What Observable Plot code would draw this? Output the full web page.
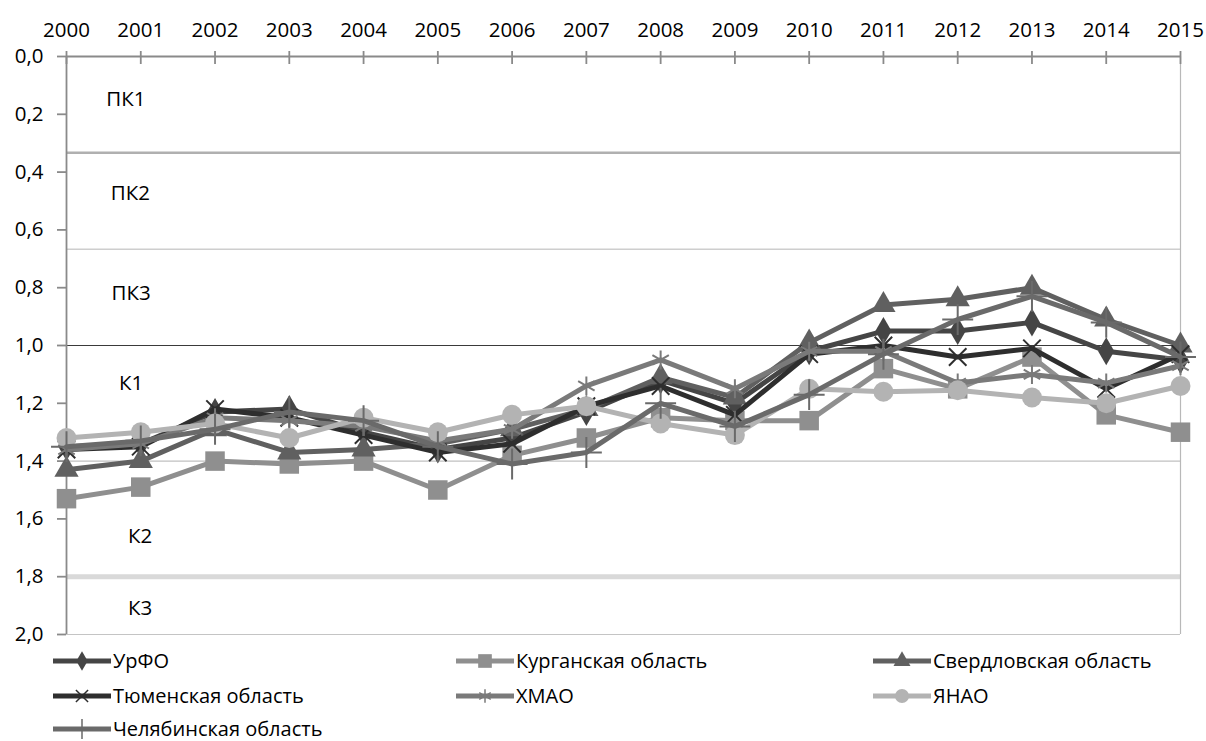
<!DOCTYPE html>
<html><head><meta charset="utf-8">
<script src="https://cdn.jsdelivr.net/npm/d3@7"></script>
<script src="https://cdn.jsdelivr.net/npm/@observablehq/plot@0.6"></script>
<style>
body{margin:0;background:#fff;font-family:"Open Sans",sans-serif;}
#wrap{position:relative;width:1206px;height:741px;overflow:hidden;}
#legend{position:absolute;left:0;top:643px;width:1206px;height:98px;}
.item{position:absolute;display:flex;align-items:center;font-size:20px;line-height:22px;color:#000;height:22px;white-space:nowrap;}
.item svg{margin-right:2px;}
</style></head><body><div id="wrap"><div id="chart"></div><div id="legend"></div></div>
<script>
const years = [2000,2001,2002,2003,2004,2005,2006,2007,2008,2009,2010,2011,2012,2013,2014,2015];
const seriesNames = ["УрФО","Курганская область","Свердловская область","Тюменская область","ХМАО","ЯНАО","Челябинская область"];
const urfo   = [1.35,1.34,1.23,1.22,1.30,1.36,1.32,1.23,1.12,1.20,1.02,0.95,0.95,0.92,1.02,1.05];
const kurgan = [1.53,1.49,1.40,1.41,1.40,1.50,1.38,1.32,1.25,1.26,1.26,1.08,1.15,1.04,1.24,1.30];
const sverdl = [1.43,1.40,1.29,1.37,1.36,1.34,1.29,1.22,1.11,1.18,0.99,0.86,0.84,0.80,0.91,1.00];
const tyumen = [1.36,1.35,1.22,1.25,1.31,1.37,1.34,1.21,1.14,1.24,1.03,1.00,1.04,1.01,1.15,1.03];
const khmao  = [1.36,1.34,1.25,1.26,1.28,1.33,1.29,1.14,1.05,1.15,1.02,1.02,1.13,1.10,1.13,1.07];
const yanao  = [1.32,1.30,1.27,1.32,1.25,1.30,1.24,1.21,1.27,1.31,1.15,1.16,1.155,1.18,1.20,1.14];
const chel   = [1.35,1.33,1.29,1.23,1.26,1.35,1.41,1.37,1.20,1.28,1.17,1.03,0.91,0.83,0.92,1.04];
const seriesValues = [urfo,kurgan,sverdl,tyumen,khmao,yanao,chel];
const yTicks = [0,0.2,0.4,0.6,0.8,1.0,1.2,1.4,1.6,1.8,2.0];
const thresholds = [1/3, 2/3, 1.0, 1.4, 1.8];
const zoneLabels = ["ПК1","ПК2","ПК3","К1","К2","К3"];
const zoneLabelX = [2000.8,2000.86,2000.87,2000.87,2000.99,2000.99];
const zoneLabelY = [0.15,0.475,0.82,1.13,1.66,1.91];

// styles (not data)
const styles = [
  {color:"#454545", symbol:"diamond", d3sym:d3.symbolDiamond, r:8.5, filled:true},
  {color:"#8f8f8f", symbol:"square", d3sym:d3.symbolSquare, r:11, filled:true},
  {color:"#606060", symbol:"triangle", d3sym:d3.symbolTriangle, r:9, filled:true},
  {color:"#2e2e2e", symbol:"times", d3sym:d3.symbolTimes, r:8, filled:false},
  {color:"#7a7a7a", symbol:"asterisk", d3sym:d3.symbolAsterisk, r:9, filled:false},
  {color:"#b3b3b3", symbol:"circle", d3sym:d3.symbolCircle, r:10, filled:true},
  {color:"#6a6a6a", symbol:"plus", d3sym:d3.symbolPlus, r:10, filled:false}
];
const thresholdStyles = [
  {stroke:"#b0b0b0", strokeWidth:2.5},
  {stroke:"#b5b5b5", strokeWidth:1},
  {stroke:"#3a3a3a", strokeWidth:1},
  {stroke:"#c0c0c0", strokeWidth:1.2},
  {stroke:"#d9d9d9", strokeWidth:5}
];

const rows = seriesValues.map((vals,i)=>years.map((yr,j)=>({series:seriesNames[i], year:yr, value:vals[j]})));
const fmt = d => d.toFixed(1).replace(".", ",");
const FS = 20.5;

const marks = [];
thresholds.forEach((t,i)=>marks.push(Plot.ruleY([t], {...thresholdStyles[i]})));
marks.push(Plot.ruleX([years[years.length-1]], {stroke:"#b8b8b8", strokeWidth:1.2}));
marks.push(Plot.ruleY([yTicks[yTicks.length-1]], {stroke:"#c4c4c4", strokeWidth:1.2}));
marks.push(Plot.ruleX([years[0]], {stroke:"#8a8a8a", strokeWidth:1.8}));
marks.push(Plot.ruleY([yTicks[0]], {stroke:"#8a8a8a", strokeWidth:1.8}));
marks.push(Plot.axisX(years, {anchor:"top", tickSize:13, dy:7, stroke:"#8a8a8a", strokeWidth:1.8, tickFormat:()=>"", label:null}));
marks.push(Plot.axisX(years, {anchor:"top", tickSize:0, tickPadding:20, tickFormat:d=>String(d), fontSize:FS, fill:"#000", label:null}));
marks.push(Plot.axisY(yTicks, {anchor:"left", tickSize:9, tickPadding:14, stroke:"#8a8a8a", strokeWidth:1.8, tickFormat:fmt, fontSize:FS, fill:"#000", label:null}));
marks.push(Plot.text(zoneLabels.map((t,i)=>({t, x:zoneLabelX[i], y:zoneLabelY[i]})), {x:"x", y:"y", text:"t", fontSize:FS, fill:"#000"}));
rows.forEach((data,i)=>{
  const s = styles[i];
  marks.push(Plot.line(data, {x:"year", y:"value", stroke:s.color, strokeWidth:5, strokeLinejoin:"round"}));
  marks.push(Plot.dot(data, s.filled
    ? {x:"year", y:"value", symbol:()=>s.symbol, r:s.r, fill:s.color, stroke:"none"}
    : {x:"year", y:"value", symbol:()=>s.symbol, r:s.r, stroke:s.color, strokeWidth:2, fill:"none"}));
});

const chart = Plot.plot({
  width:1206, height:645,
  marginLeft:66, marginRight:26, marginTop:56, marginBottom:11,
  x:{domain:[years[0], years[years.length-1]], axis:null},
  y:{domain:[yTicks[0], yTicks[yTicks.length-1]], reverse:true, axis:null},
  symbol:{type:"identity"},
  style:{fontFamily:"'Open Sans', sans-serif", fontSize:FS+"px", color:"#000", background:"#fff", overflow:"visible"},
  marks
});
document.getElementById("chart").appendChild(chart);

// legend
const legend = d3.select("#legend");
const colLeft = [53, 456, 873];
const rowTop = [7, 42, 75];
seriesNames.forEach((name,i)=>{
  const s = styles[i];
  const item = legend.append("div").attr("class","item")
    .style("left", colLeft[i%3]+"px").style("top", rowTop[Math.floor(i/3)]+"px");
  const svg = item.append("svg").attr("width",58).attr("height",20);
  svg.append("line").attr("x1",0).attr("x2",58).attr("y1",10).attr("y2",10)
    .attr("stroke",s.color).attr("stroke-width",5);
  const size = (s.r*0.7)*(s.r*0.7)*Math.PI;
  svg.append("path").attr("transform","translate(29,10)")
    .attr("d", d3.symbol(s.d3sym, size)())
    .attr("fill", s.filled ? s.color : "none")
    .attr("stroke", s.filled ? "none" : s.color)
    .attr("stroke-width", 1.5);
  item.append("span").text(name);
});
</script>
</body></html>
